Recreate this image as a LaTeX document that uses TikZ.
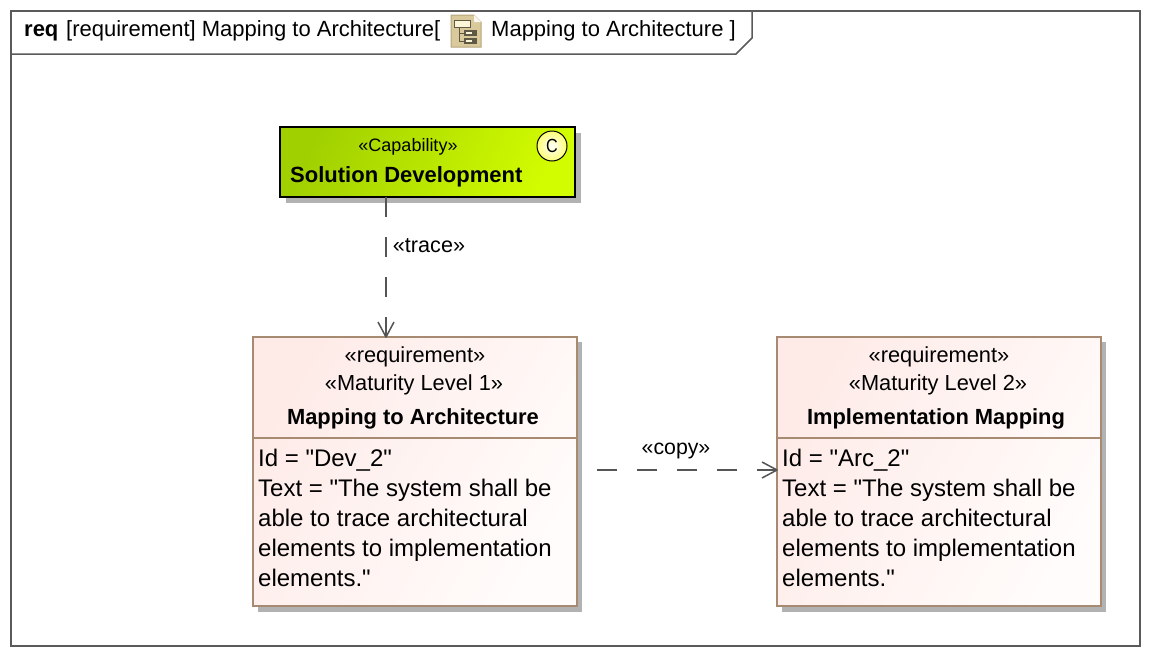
\documentclass[tikz,border=0pt]{standalone}
\usepackage{fontspec}
\setmainfont[Ligatures=TeXOff]{Liberation Sans}
\usetikzlibrary{arrows.meta}
\definecolor{framegray}{HTML}{5A5A5A}
\definecolor{shadowgray}{HTML}{B2B2B2}
\definecolor{reqborder}{HTML}{A68A72}
\definecolor{reqstart}{HTML}{FEEBE8}
\definecolor{reqend}{HTML}{FFFCFB}
\definecolor{limestart}{HTML}{A0D000}
\definecolor{limeend}{HTML}{D2FC00}
\definecolor{iconfill}{HTML}{D9C99B}
\definecolor{iconedge}{HTML}{B5A67C}
\definecolor{iconline}{HTML}{5F5A45}
\definecolor{iconpale}{HTML}{FBF6D8}
\definecolor{connline}{HTML}{555555}
\newcommand{\fs}[1]{\fontsize{#1}{#1}\selectfont}
\tikzset{
  x=1pt,y=-1pt,
  frameline/.style={draw=framegray,line width=1.5pt},
  reqbox/.style={draw=reqborder,line width=1.6pt,left color=reqstart,right color=reqend,shading angle=60,anchor=north west,inner sep=0pt,outer sep=0pt},
  capbox/.style={draw=black,line width=1.6pt,left color=limestart,right color=limeend,shading angle=65,anchor=north west,inner sep=0pt,outer sep=0pt},
  label/.style={inner sep=0pt,font=\fs{21.8},text=black},
  boldlabel/.style={inner sep=0pt,font=\fs{21.9}\bfseries,text=black},
  bodytext/.style={inner sep=0pt,font=\fs{24},text=black,anchor=base west},
  conn/.style={draw=connline,line width=1.5pt,dash pattern=on 20pt off 20pt,line cap=butt},
  headline/.style={draw=connline,line width=1.5pt,line join=round},
}
\begin{document}
\begin{tikzpicture}
\useasboundingbox (0,0) rectangle (1150,656);
\fill[white] (0,0) rectangle (1150,656);
% frame
\node[draw=framegray,line width=1.6pt,minimum width=1129pt,minimum height=635pt,inner sep=0pt,outer sep=0pt,anchor=north west] (frame) at (11,11) {};
\draw[frameline] (11,54) -- (736,54) -- (752,38) -- (752,11);
\node[inner sep=0pt,anchor=base west,font=\fs{22}\bfseries] (kw) at (24,36) {req};
\node[inner sep=0pt,anchor=base west,font=\fs{22}] (ftitle) at (66,36) {[requirement] Mapping to Architecture[};
% icon
\draw[iconedge,fill=iconfill,line width=1pt] (451,15) -- (474,15) -- (481,22) -- (481,47) -- (451,47) -- cycle;
\fill[white!85!iconfill] (474,15) -- (481,22) -- (474,22) -- cycle;
\draw[iconline,fill=iconpale,line width=1pt] (454.5,20.5) rectangle (470,27);
\draw[iconline,line width=1pt] (459.5,27) -- (459.5,41) -- (464,41) (459.5,33) -- (464,33);
\fill[iconline] (464,30) rectangle (477,36);
\fill[iconline] (464,38) rectangle (477,44);
\fill[iconpale] (466,32) rectangle (472,34);
\fill[iconpale] (466,40) rectangle (472,42);
\node[inner sep=0pt,anchor=base west,font=\fs{22}] (fname) at (491,36) {Mapping to Architecture ]};
% shadows
\fill[shadowgray] (286,133) rectangle (581,203);
\fill[shadowgray] (258,342) rectangle (582,612);
\fill[shadowgray] (782,342) rectangle (1106,612);
% capability
\node[capbox,minimum width=295pt,minimum height=70pt] (cap) at (280,127) {};
\node[label,font=\fs{18}] (capst) at (408,147) {«Capability»};
\node[boldlabel,font=\fs{22}\bfseries,anchor=base west] (capname) at (290,182) {Solution Development};
\node[circle,draw=black,line width=1pt,inner color=white,outer color=yellow!55,minimum size=30pt,inner sep=0pt] (capc) at (552,146) {};
\node[inner sep=0pt,font=\fs{19},xscale=0.85] (capl) at (capc) {C};
% requirement 1
\node[reqbox,minimum width=324pt,minimum height=269pt] (req1) at (253,337) {};
\draw[draw=reqborder,line width=1.6pt] (253,438) -- (577,438);
\node[label] (r1a) at (415,357) {«requirement»};
\node[label] (r1b) at (414,385) {«Maturity Level 1»};
\node[boldlabel] (r1c) at (413,419) {Mapping to Architecture};
\node[bodytext] (r1d) at (258,466) {Id = "Dev\_2"};
\node[bodytext] (r1e) at (258,496) {Text = "The system shall be};
\node[bodytext] (r1f) at (258,526) {able to trace architectural};
\node[bodytext] (r1g) at (258,556) {elements to implementation};
\node[bodytext] (r1h) at (258,586) {elements."};
% requirement 2
\node[reqbox,minimum width=324pt,minimum height=269pt] (req2) at (777,337) {};
\draw[draw=reqborder,line width=1.6pt] (777,438) -- (1101,438);
\node[label] (r2a) at (939,357) {«requirement»};
\node[label] (r2b) at (938,385) {«Maturity Level 2»};
\node[boldlabel] (r2c) at (936,419) {Implementation Mapping};
\node[bodytext] (r2d) at (782,466) {Id = "Arc\_2"};
\node[bodytext] (r2e) at (782,496) {Text = "The system shall be};
\node[bodytext] (r2f) at (782,526) {able to trace architectural};
\node[bodytext] (r2g) at (782,556) {elements to implementation};
\node[bodytext] (r2h) at (782,586) {elements."};
% connectors
\coordinate (tstart) at (386,197);
\coordinate (tend) at (386,337);
\coordinate (cstart) at (597,470);
\coordinate (cend) at (777,470);
\draw[conn] (tstart) -- (tend);
\draw[conn] (cstart) -- (cend);
\draw[headline] ([shift={(-8,-15)}]tend) -- (tend) -- ([shift={(8,-15)}]tend);
\draw[headline] ([shift={(-15,-8)}]cend) -- (cend) -- ([shift={(-15,8)}]cend);
\node[label,font=\fs{21.6}] (tr) at (429,246) {«trace»};
\node[label,font=\fs{21.3}] (co) at (676,451) {«copy»};
\end{tikzpicture}
\end{document}
